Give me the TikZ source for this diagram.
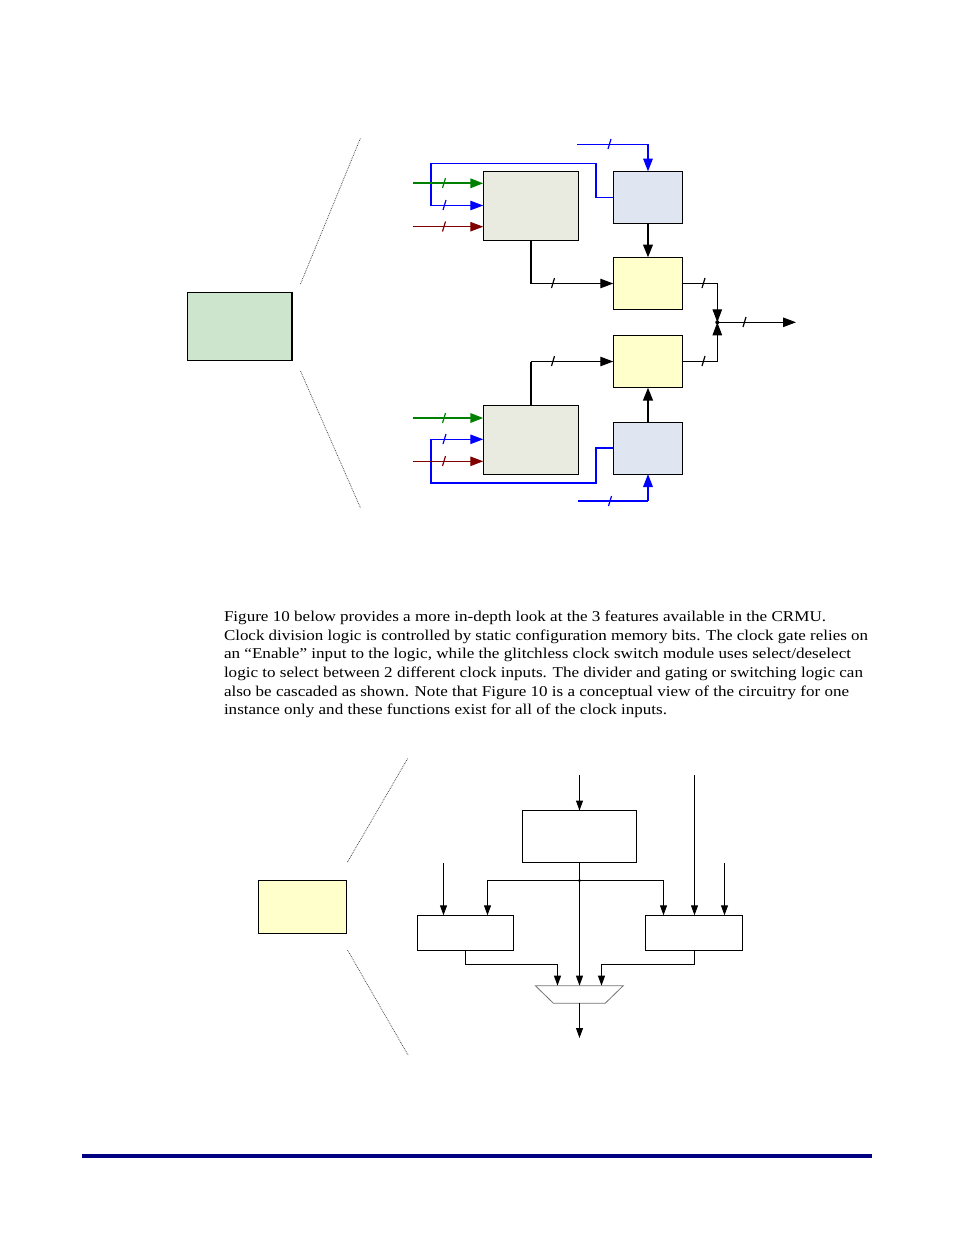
\documentclass[tikz,border=0pt]{standalone}
\usepackage{fontspec}
\setmainfont{Liberation Serif}
\usetikzlibrary{arrows.meta,calc}
\definecolor{dgreen}{RGB}{0,128,0}
\definecolor{dred}{RGB}{128,0,0}
\definecolor{bblue}{RGB}{0,0,255}
\definecolor{navyrule}{RGB}{0,0,128}
\definecolor{boxgreen}{RGB}{204,229,204}
\definecolor{boxtan}{RGB}{234,235,224}
\definecolor{boxblue}{RGB}{223,230,241}
\definecolor{boxyellow}{RGB}{255,255,204}
\newcommand{\fitline}[2]{\resizebox{#1pt}{\height}{#2}}
\tikzset{
  block/.style={draw=black,line width=1pt,inner sep=0pt,outer sep=0pt},
  greenbox/.style={block,fill=boxgreen,minimum width=104.5pt,minimum height=67.5pt},
  tanbox/.style={block,fill=boxtan,minimum width=95.5pt,minimum height=69pt},
  bluebox/.style={block,fill=boxblue,minimum width=69.5pt,minimum height=52pt},
  yelbox/.style={block,fill=boxyellow,minimum width=69.5pt,minimum height=52pt},
  yelbig/.style={block,fill=boxyellow,minimum width=88pt,minimum height=53pt},
  plainbox/.style={block,fill=white},
  bigtip/.style={-{Triangle[length=13pt,width=9.5pt]}},
  smalltip/.style={-{Triangle[length=10pt,width=7pt]}},
  thinw/.style={line width=1pt},
  medw/.style={line width=1.8pt},
  thickw/.style={line width=2.5pt},
  tick/.style={line width=1.2pt},
  guide/.style={draw=black!70,line width=0.8pt,densely dotted},
  txtline/.style={anchor=base west,inner sep=0pt,outer sep=0pt,font=\fontsize{15}{18}\selectfont},
}
\begin{document}
\begin{tikzpicture}[x=1pt,y=-1pt]
\useasboundingbox (0,0) rectangle (954,1235);
% ---- top diagram blocks
\node[greenbox] (mod) at (240,326.5) {};
\draw[line width=2pt] (mod.north east) -- (mod.south east);
\node[tanbox] (tanA) at (531,205.75) {};
\node[tanbox] (tanB) at (531,439.75) {};
\node[bluebox] (blueA) at (648,197.5) {};
\node[yelbox] (yelA) at (648,283.5) {};
\node[yelbox] (yelB) at (648,361.5) {};
\node[bluebox] (blueB) at (648,448) {};
% free ends and helpers
\coordinate (zoomTa) at (300.5,284);
\coordinate (zoomTb) at (360.5,138);
\coordinate (zoomBa) at (300.5,371);
\coordinate (zoomBb) at (360.5,508);
\coordinate (gA) at (413,183.3);
\coordinate (rA) at (413,226.7);
\coordinate (gB) at (413,418);
\coordinate (rB) at (413,461.3);
\coordinate (inA) at (577,144.3);
\coordinate (inB) at (578,501);
\coordinate (join) at (717.3,322.3);
\coordinate (outp) at (796,322.3);
\coordinate (loopAx) at (596,163.3);
\coordinate (loopAy) at (431,205.5);
\coordinate (loopBx) at (596,483);
\coordinate (loopBy) at (431,439.3);
% dotted zoom guides
\draw[guide] (zoomTa) -- (zoomTb);
\draw[guide] (zoomBa) -- (zoomBb);
% inputs to upper tan box
\draw[bblue,thinw] (blueA.west) -| (loopAx) -| (loopAy);
\draw[bblue,thinw,bigtip] (loopAy) -- (loopAy -| tanA.west);
\draw[bblue,medw] (loopAy |- loopAx) -- (loopAy);
\draw[bblue,medw] (blueA.west -| loopAx) -- (loopAx);
\draw[dgreen,line width=2pt,bigtip] (gA) -- (gA -| tanA.west);
\draw[dred,thinw,bigtip] (rA) -- (rA -| tanA.west);
\draw[bblue,thinw] (inA) -- (inA -| blueA.north);
\draw[bblue,medw,bigtip] (inA -| blueA.north) -- (blueA.north);
% upper paths
\draw[thickw,bigtip] (blueA.south) -- (yelA.north);
\draw[thickw] (tanA.south) -- (tanA.south |- yelA.west);
\draw[thinw,bigtip] (tanA.south |- yelA.west) -- (yelA.west);
\draw[thinw,bigtip] (yelA.east) -| (join);
\draw[thinw,bigtip] (yelB.east) -| (join);
\draw[thinw,bigtip] (join) -- (outp);
\fill (join) circle (2pt);
% inputs to lower tan box
\draw[bblue,thinw,bigtip] (loopBy) -- (loopBy -| tanB.west);
\draw[bblue,line width=2pt] (blueB.west) -| (loopBx) -| (loopBy);
\draw[dgreen,line width=2pt,bigtip] (gB) -- (gB -| tanB.west);
\draw[dred,thinw,bigtip] (rB) -- (rB -| tanB.west);
\draw[bblue,line width=2pt] (inB) -- (inB -| blueB.south);
\draw[bblue,medw,bigtip] (inB -| blueB.south) -- (blueB.south);
% lower paths
\draw[thickw,bigtip] (blueB.north) -- (yelB.south);
\draw[thickw] (tanB.north) -- (tanB.north |- yelB.west);
\draw[thinw,bigtip] (tanB.north |- yelB.west) -- (yelB.west);
% bus ticks
\foreach \x/\y/\c in {444/183/dgreen,444.5/205/bblue,444/226.5/dred,553/283/black,609.5/144/bblue,703.5/283/black,703.5/361/black,744.5/322/black,553/361/black,444/418/dgreen,444.5/439/bblue,444/461/dred,610/501/bblue}
  \draw[tick,\c] (\x,\y) ++(-1.5,5) -- ++(3,-10);
% ---- paragraph
\node[txtline] (t1) at (224,621) {\fitline{602}{Figure 10 below provides a more in-depth look at the 3 features available in the CRMU.}};
\node[txtline] (t2) at (224,640) {\fitline{644}{Clock division logic is controlled by static configuration memory bits. The clock gate relies on}};
\node[txtline] (t3) at (224,658) {\fitline{627}{an “Enable” input to the logic, while the glitchless clock switch module uses select/deselect}};
\node[txtline] (t4) at (224,677) {\fitline{639}{logic to select between 2 different clock inputs. The divider and gating or switching logic can}};
\node[txtline] (t5) at (224,696) {\fitline{625}{also be cascaded as shown. Note that Figure 10 is a conceptual view of the circuitry for one}};
\node[txtline] (t6) at (224,714) {\fitline{443}{instance only and these functions exist for all of the clock inputs.}};
% ---- lower diagram
\node[yelbig] (crmu) at (302.5,907) {};
\node[plainbox,minimum width=114pt,minimum height=52pt] (div) at (579.5,836.5) {};
\node[plainbox,minimum width=96pt,minimum height=35pt] (gate) at (465.5,932.8) {};
\node[plainbox,minimum width=97pt,minimum height=35pt] (swit) at (694,932.8) {};
\node[inner sep=0pt,outer sep=0pt,minimum width=88pt,minimum height=17.5pt] (mux) at (579.3,994.4) {};
\draw[draw=black!55,line width=0.8pt] (mux.north west) -- (mux.north east) -- ($(mux.south east)+(-18,0)$) -- ($(mux.south west)+(18,0)$) -- cycle;
\coordinate (zoomCa) at (347.5,862);
\coordinate (zoomCb) at (408,758);
\coordinate (zoomDa) at (347.5,950);
\coordinate (zoomDb) at (408,1055);
\coordinate (divIn) at (579.5,775);
\coordinate (swIn) at (694.5,775);
\coordinate (gateIn) at (443.5,863);
\coordinate (swIn2) at (724.5,863);
\coordinate (tapL) at (487.5,880.5);
\coordinate (tapR) at (663.5,880.5);
\coordinate (tap) at (579.5,880.5);
\coordinate (muxL) at (557.5,964.5);
\coordinate (muxR) at (601.5,964.5);
\coordinate (muxOut) at (579.5,1038);
\draw[guide] (zoomCa) -- (zoomCb);
\draw[guide] (zoomDa) -- (zoomDb);
\draw[thinw,smalltip] (divIn) -- (div.north);
\draw[thinw,smalltip] (swIn) -- (swIn |- swit.north);
\draw[thinw,smalltip] (gateIn) -- (gateIn |- gate.north);
\draw[thinw,smalltip] (swIn2) -- (swIn2 |- swit.north);
\draw[thinw,smalltip] (div.south) -- (tap |- mux.north);
\draw[thinw,smalltip] (tap) -- (tapL) -- (tapL |- gate.north);
\draw[thinw,smalltip] (tap) -- (tapR) -- (tapR |- swit.north);
\fill (tap) circle (1.7pt);
\draw[thinw,smalltip] (gate.south) |- (muxL) -- (muxL |- mux.north);
\draw[thinw,smalltip] (swit.south) |- (muxR) -- (muxR |- mux.north);
\draw[thinw,smalltip] (mux.south -| muxOut) -- (muxOut);
% ---- footer rule
\coordinate (ruleL) at (82,1156);
\coordinate (ruleR) at (872,1156);
\draw[navyrule,line width=4pt] (ruleL) -- (ruleR);
\end{tikzpicture}
\end{document}
